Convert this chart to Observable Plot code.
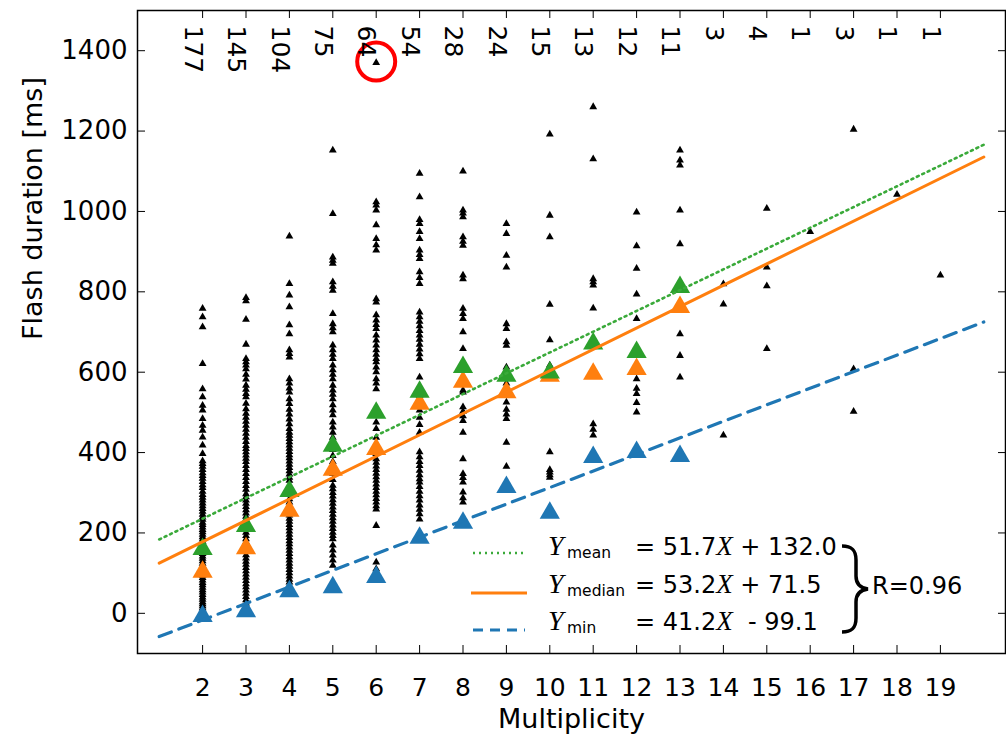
<!DOCTYPE html>
<html>
<head>
<meta charset="utf-8">
<script src="https://cdn.jsdelivr.net/npm/d3@7"></script>
<script src="https://cdn.jsdelivr.net/npm/@observablehq/plot@0.6"></script>
<style>
  body { margin: 0; background: #fff; }
  svg { display: block; }
</style>
</head>
<body>
<div id="chart"></div>
<script>
// ---- data ----
const multiplicity = [2, 3, 4, 5, 6, 7, 8, 9, 10, 11, 12, 13, 14, 15, 16, 17, 18, 19];
const flashCounts  = [177, 145, 104, 75, 64, 54, 28, 24, 15, 13, 12, 11, 3, 4, 1, 3, 1, 1];
const yTicks = [0, 200, 400, 600, 800, 1000, 1200, 1400];

const statMultiplicity = [2, 3, 4, 5, 6, 7, 8, 9, 10, 11, 12, 13];
const meanDuration   = [167, 224, 311, 424, 506, 558, 620, 598, 606, 678, 657, 819];
const medianDuration = [110, 169, 262, 364, 416, 528, 583, 557, 598, 603, 615, 769];
const minDuration    = [0, 12, 62, 72, 97, 195, 232, 321, 257, 396, 408, 398];

const fitNames      = ["mean", "median", "min"];
const fitSlopes     = [51.7, 53.2, 41.2];
const fitIntercepts = [132.0, 71.5, -99.1];
const fitRange      = [1, 20];
const fitCorrelation = "R=0.96";

// individual flash durations per multiplicity (ms)
const flashes2 = [761, 740, 715, 624, 561, 541, 520, 508, 487, 470, 458, 441, 421, 400, 382, 375, 368, 360, 352, 345, 338, 330, 322, 315, 306, 298, 291, 284, 277, 270, 263, 256, 249, 242, 236, 229, 223, 217, 211, 205, 199, 193, 187, 181, 175, 169, 163, 157, 151, 145, 139, 133, 127, 121, 115, 109, 103, 97, 91, 85, 79, 73, 67, 61, 55, 49, 43, 37, 31, 26, 21, 16, 11, 6, 2];
const flashes3 = [788, 780, 734, 672, 636, 628, 620, 611, 597, 585, 570, 560, 549, 541, 525, 511, 500, 490, 480, 470, 460, 450, 440, 430, 420, 412, 404, 396, 388, 380, 370, 360, 350, 340, 330, 320, 311, 300, 292, 284, 276, 268, 260, 252, 244, 236, 228, 220, 212, 204, 196, 188, 180, 172, 164, 156, 148, 140, 132, 124, 116, 108, 100, 92, 84, 76, 68, 60, 52, 44, 36, 28, 20];
const flashes4 = [941, 823, 794, 765, 720, 698, 658, 649, 640, 586, 575, 563, 553, 536, 524, 510, 498, 486, 474, 462, 453, 445, 437, 429, 421, 413, 405, 397, 389, 381, 373, 365, 357, 349, 341, 333, 320, 305, 287, 279, 271, 263, 255, 247, 239, 231, 223, 215, 207, 199, 191, 183, 175, 167, 159, 151, 143, 135, 127, 119, 111, 103, 95, 87, 80, 72];
const flashes5 = [1155, 997, 889, 881, 873, 827, 816, 806, 748, 723, 713, 703, 670, 658, 647, 636, 620, 608, 597, 586, 570, 558, 547, 536, 521, 508, 496, 478, 466, 453, 440, 425, 410, 395, 380, 365, 350, 335, 321, 312, 303, 294, 285, 276, 267, 258, 249, 240, 231, 222, 213, 204, 196, 188, 172, 160, 147, 135, 122];
const flashes6 = [1373, 1026, 1018, 1006, 969, 935, 919, 906, 785, 777, 745, 732, 721, 711, 695, 682, 670, 658, 647, 636, 628, 615, 603, 586, 575, 561, 478, 462, 440, 420, 400, 387, 378, 369, 360, 351, 342, 333, 324, 315, 306, 297, 288, 279, 270, 262, 221, 130, 113];
const flashes7 = [1097, 1039, 982, 972, 952, 935, 906, 895, 885, 852, 838, 823, 752, 740, 729, 718, 706, 695, 684, 672, 660, 648, 636, 590, 545, 508, 490, 472, 453, 404, 392, 380, 370, 358, 347, 337, 329, 318, 306, 295, 284, 272, 261, 250, 237];
const flashes8 = [1103, 1006, 998, 989, 939, 928, 918, 844, 835, 761, 748, 736, 703, 661, 558, 553, 516, 505, 494, 482, 453, 387, 350, 340, 329, 304, 290, 279];
const flashes9 = [972, 947, 893, 864, 723, 711, 678, 669, 615, 590, 575, 560, 545, 528, 510, 498, 487, 428, 368];
const flashes10 = [1195, 993, 939, 771, 683, 620, 610, 600, 404, 360, 354, 347, 341];
const flashes11 = [1263, 1133, 835, 827, 819, 762, 686, 610, 600, 474, 460, 446];
const flashes12 = [1001, 917, 861, 797, 736, 650, 620, 586, 562, 549, 527, 503];
const flashes13 = [1155, 1130, 1118, 1006, 922, 820, 765, 698, 644, 590, 400];
const flashes14 = [822, 772, 446];
const flashes15 = [1010, 864, 817, 661];
const flashes16 = [952];
const flashes17 = [1207, 611, 505];
const flashes18 = [1045];
const flashes19 = [844];

const flashColumns = [flashes2, flashes3, flashes4, flashes5, flashes6, flashes7, flashes8, flashes9, flashes10,
  flashes11, flashes12, flashes13, flashes14, flashes15, flashes16, flashes17, flashes18, flashes19];

// highlighted flash (circled in red)
const highlight = [{m: 6, d: 1373}];

// ---- tables built from the arrays ----
const flashTable = flashColumns.flatMap((col, i) => col.map(d => ({m: multiplicity[i], d})));
const statTable = statMultiplicity.flatMap((m, i) => [
  {m, d: minDuration[i], s: "min"},
  {m, d: medianDuration[i], s: "median"},
  {m, d: meanDuration[i], s: "mean"}
]);
const fitTable = fitNames.flatMap((s, i) => fitRange.map(m => ({s, m, d: fitSlopes[i] * m + fitIntercepts[i]})));
const countTable = multiplicity.map((m, i) => ({m, n: String(flashCounts[i])}));

const colors = {mean: "#2ca02c", median: "#ff7f0e", min: "#1f77b4"};

// matplotlib-like "^" marker, centred on its bounding box
const triangleUp = {
  draw(context, size) {
    const s = Math.sqrt(size * 4 / Math.sqrt(3));
    const h = s * Math.sqrt(3) / 2;
    context.moveTo(0, -h / 2);
    context.lineTo(s / 2, h / 2);
    context.lineTo(-s / 2, h / 2);
    context.closePath();
  }
};

const font = "DejaVu Sans, Liberation Sans, sans-serif";
const serif = "Liberation Serif, DejaVu Serif, serif";

const chart = Plot.plot({
  width: 1006,
  height: 734,
  marginTop: 10,
  marginBottom: 81,
  marginLeft: 137,
  marginRight: 1,
  style: {fontFamily: font, fontSize: "26px", color: "black", background: "white", overflow: "visible"},
  x: {domain: [0.5, 20.5]},
  y: {domain: [-100, 1500]},
  marks: [
    Plot.dot(flashTable, {x: "m", y: "d", symbol: triangleUp, r: 2.9, fill: "black", stroke: null}),
    Plot.dot(statTable, {x: "m", y: "d", symbol: triangleUp, r: 7.5, fill: d => colors[d.s], stroke: null}),
    Plot.line(fitTable.filter(d => d.s === "mean"), {x: "m", y: "d", stroke: "#3aaa3a", strokeWidth: 2.6, strokeDasharray: "2,4"}),
    Plot.line(fitTable.filter(d => d.s === "median"), {x: "m", y: "d", stroke: colors.median, strokeWidth: 3}),
    Plot.line(fitTable.filter(d => d.s === "min"), {x: "m", y: "d", stroke: colors.min, strokeWidth: 3.2, strokeDasharray: "13,8"}),
    Plot.dot(highlight, {x: "m", y: "d", r: 19, stroke: "#ff0000", strokeWidth: 4, fill: "none"}),
    Plot.frame({stroke: "black", strokeWidth: 1.5}),
    Plot.axisY({ticks: yTicks, tickSize: -8, tickPadding: 18, tickFormat: d => String(d), label: null, fontSize: 26}),
    Plot.axisY({anchor: "right", ticks: yTicks, tickSize: -8, tickFormat: () => "", label: null}),
    Plot.axisX({ticks: multiplicity, tickSize: -8, tickPadding: 33, tickFormat: d => String(d), label: null, fontSize: 25}),
    Plot.axisX({anchor: "top", ticks: multiplicity, tickSize: -7, tickFormat: () => "", label: null}),
    Plot.text(countTable, {x: "m", text: "n", frameAnchor: "top", rotate: 90, textAnchor: "start", dy: 15, fontSize: 25}),
    Plot.text(["Multiplicity"], {frameAnchor: "bottom", dy: 74, lineAnchor: "bottom", fontSize: 27}),
    Plot.text(["Flash duration [ms]"], {frameAnchor: "left", rotate: -90, dx: -96, dy: 8, lineAnchor: "bottom", fontSize: 27})
  ]
});

document.getElementById("chart").appendChild(chart);

// ---- legend (equations) ----
const svg = d3.select(chart);
const leg = svg.append("g").attr("font-family", font).attr("fill", "black").attr("text-anchor", "start");
const rows = [
  {s: "mean",   y: 555, dash: "2,4",   w: 2.6, x1: 473, x2: 523, c: "#3aaa3a"},
  {s: "median", y: 593, dash: null,    w: 3,   x1: 471, x2: 527, c: colors.median},
  {s: "min",    y: 630, dash: "10,7",  w: 3.2, x1: 473, x2: 525, c: colors.min}
];
rows.forEach((r, i) => {
  const ly = r.y - (i === 0 ? 2 : 0);
  leg.append("line").attr("x1", r.x1).attr("x2", r.x2).attr("y1", ly).attr("y2", ly)
    .attr("stroke", r.c).attr("stroke-width", r.w)
    .attr("stroke-dasharray", r.dash);
  leg.append("text").attr("x", 548).attr("y", r.y)
    .attr("font-family", serif).attr("font-style", "italic")
    .attr("font-size", 28).text("Y");
  leg.append("text").attr("x", 567).attr("y", r.y + 3).attr("font-size", 15.5).text(r.s);
  const slope = fitSlopes[i].toFixed(1);
  const b = fitIntercepts[i];
  const t = leg.append("text").attr("x", 635).attr("y", r.y).attr("font-size", 24).style("white-space", "pre");
  t.append("tspan").text("= " + slope);
  t.append("tspan").attr("font-family", serif).attr("font-style", "italic").attr("font-size", 27).text("X");
  t.append("tspan").text(b >= 0 ? " + " + b.toFixed(1) : "  - " + Math.abs(b).toFixed(1));
});
// curly brace grouping the three fits
leg.append("path")
  .attr("d", "M842,546 C852,546 856,550 856,560 L856,576 C856,584 860,588 868,589 C860,590 856,594 856,602 L856,618 C856,628 852,632 842,632")
  .attr("fill", "none").attr("stroke", "black").attr("stroke-width", 3.5);
leg.append("text").attr("x", 872).attr("y", 594).attr("font-size", 24).text(fitCorrelation);
</script>
</body>
</html>
